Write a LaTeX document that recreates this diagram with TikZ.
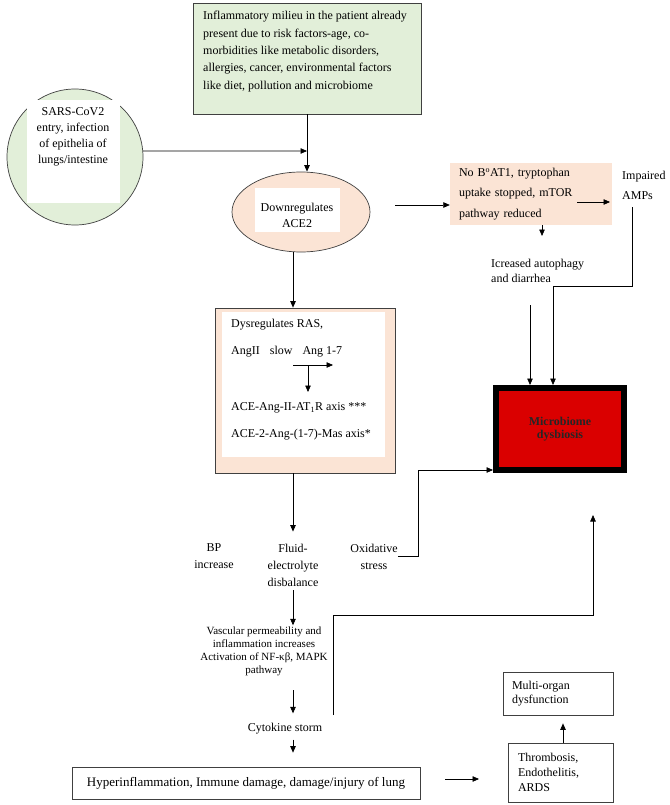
\documentclass[tikz,border=0pt]{standalone}
\usepackage{fontspec}
\setmainfont{Liberation Serif}
\usetikzlibrary{arrows.meta,positioning,shapes.geometric}
\definecolor{milieugreen}{HTML}{E2EFD9}
\definecolor{peach}{HTML}{FBE4D5}
\definecolor{boxgray}{HTML}{404040}
\definecolor{dysred}{HTML}{DA0000}

\begin{document}
\begin{tikzpicture}[x=1pt,y=-1pt,
  arr/.style={-{Triangle[length=6.5pt,width=5.5pt]},line width=0.7pt},
  txt/.style={font=\fontsize{12}{#1}\selectfont,inner sep=0pt},
  txt/.default=14,
  frame/.style={draw=boxgray,line width=0.7pt,inner sep=0pt},
  whitebg/.style={fill=white,inner sep=0pt}]
  \useasboundingbox (0,0) rectangle (669,805);
  % risk factors and entry
  \node[frame,fill=milieugreen,minimum width=228pt,minimum height=111pt] (milieu) at (307,58.5) {};
  \node[txt=17.3,align=left,anchor=west] (milieutxt) at (203,51.5) {Inflammatory milieu in the patient already\\present due to risk factors-age, co-\\morbidities like metabolic disorders,\\allergies, cancer, environmental factors\\like diet, pollution and microbiome};
  \node[circle,frame,fill=milieugreen,minimum size=136pt] (sars) at (75,157) {};
  \node[whitebg,minimum width=93pt,minimum height=103pt] (sarsbg) at (73.5,151.5) {};
  \node[txt=16,align=center] (sarstxt) at (73,137) {SARS-CoV2\\entry, infection\\of epithelia of\\lungs/intestine};
  \node[ellipse,frame,fill=peach,minimum width=138pt,minimum height=80pt] (ace2) at (301,212) {};
  \node[whitebg,minimum width=85pt,minimum height=44pt] (ace2bg) at (297.5,210) {};
  \node[txt=16,align=center] (ace2txt) at (297,215) {Downregulates\\ACE2};
  \coordinate (join) at (307,151);
  \draw[arr] (sars.5) -- (join);
  \draw[line width=0.7pt] (milieu.south) -- (join);
  \draw[arr] (join) -- (join |- ace2.north);
  % RAS
  \coordinate (spine) at (293,0);
  \node[frame,fill=peach,minimum width=180pt,minimum height=165pt] (ras) at (305,390.5) {};
  \node[whitebg,minimum width=163pt,minimum height=145pt] (rasbg) at (303.5,384.5) {};
  \draw[arr] (ace2.south -| spine) -- (ras.north -| spine);
  \node[txt,anchor=west] (dysras) at (231,325) {Dysregulates RAS,};
  \node[txt,anchor=west] (angii) at (231,352) {AngII\hspace{10pt}slow\hspace{10pt}Ang 1-7};
  \coordinate (slowfrom) at (293,365);
  \coordinate (slowto) at (333,365);
  \coordinate (slowdown) at (308,392);
  \draw[arr] (slowfrom) -- (slowto);
  \draw[arr] (slowdown |- slowfrom) -- (slowdown);
  \node[txt,anchor=west] (at1r) at (231,408) {ACE-Ang-II-AT\textsubscript{1}R axis ***};
  \node[txt,anchor=west] (mas) at (231,435) {ACE-2-Ang-(1-7)-Mas axis*};
  % effects
  \node[txt=17,align=center] (bp) at (214,556.5) {BP\\increase};
  \node[txt=17,align=center] (fluid) at (293,565) {Fluid-\\electrolyte\\disbalance};
  \node[txt=17,align=center] (oxid) at (374,556.5) {Oxidative\\stress};
  \draw[arr,shorten >=12pt] (ras.south -| spine) -- (fluid.north -| spine);
  \node[txt,font=\fontsize{11}{13}\selectfont,align=center] (vasc) at (264,651.5) {Vascular permeability and\\inflammation increases\\Activation of NF-κβ, MAPK\\pathway};
  \draw[arr,shorten <=4pt,shorten >=1.5pt] (fluid.south -| spine) -- (vasc.north -| spine);
  \node[txt] (cyto) at (285,729) {Cytokine storm};
  \draw[arr,shorten <=14pt,shorten >=10pt] (vasc.south -| spine) -- (cyto.north -| spine);
  \node[frame,txt,font=\fontsize{13}{15}\selectfont,minimum width=348pt,minimum height=32pt] (hyper) at (246,783) {Hyperinflammation, Immune damage, damage/injury of lung};
  \draw[arr,shorten <=5pt,shorten >=14pt] (cyto.south -| spine) -- (hyper.north -| spine);
  \node[frame,txt=15,align=left,minimum width=105pt,minimum height=59pt,text width=85pt] (thromb) at (560.5,772.5) {Thrombosis,\\Endothelitis,\\ARDS};
  \node[frame,txt=14,align=left,minimum width=110pt,minimum height=43pt,text width=92pt] (multi) at (558,693.5) {Multi-organ\\dysfunction};
  \coordinate (upx) at (563,0);
  \draw[arr,shorten >=8pt] (thromb.north -| upx) -- (multi.south -| upx);
  \coordinate (hyperout) at (445,779);
  \coordinate (thrombin) at (479,779);
  \draw[arr] (hyperout) -- (thrombin);
  % gut side
  \node[draw=black,line width=6pt,fill=dysred,inner sep=0pt,minimum width=128pt,minimum height=82pt,align=center,font=\fontsize{12}{13}\selectfont\bfseries,text=black!85] (micro) at (560,429) {Microbiome\\dysbiosis};
  \node[fill=peach,inner sep=0pt,minimum width=162pt,minimum height=62pt,txt=20.5,align=left,text width=144pt] (bat) at (531,194) {No B\textsuperscript{o}AT1, tryptophan\\uptake stopped, mTOR\\pathway reduced};
  \node[txt=20,align=left,anchor=west] (amps) at (622,185) {Impaired\\AMPs};
  \coordinate (batin) at (395,205);
  \draw[arr] (batin) -- (batin -| bat.west);
  \coordinate (mtorout) at (577,202);
  \draw[arr,shorten >=12pt] (mtorout) -- (mtorout -| amps.west);
  \coordinate (autodown) at (542,236);
  \draw[arr] (autodown |- bat.south) -- (autodown);
  \node[txt=15,align=left,anchor=west] (autoph) at (491,270.5) {Icreased autophagy\\and diarrhea};
  \coordinate (autoline) at (530,305);
  \draw[arr] (autoline) -- (autoline |- micro.north);
  \coordinate (ampsline) at (632,207);
  \coordinate (ampsbend) at (553,286);
  \draw[arr] (ampsline) |- (ampsbend) -- (ampsbend |- micro.north);
  \coordinate (oxbend) at (418,470);
  \draw[arr] (oxid.east) -| (oxbend) -- (oxbend -| micro.west);
  \coordinate (cytoup) at (333,715);
  \coordinate (risebend) at (593,615);
  \coordinate (riseto) at (593,515);
  \draw[arr] (cytoup) |- (risebend) -- (riseto);
\end{tikzpicture}
\end{document}
